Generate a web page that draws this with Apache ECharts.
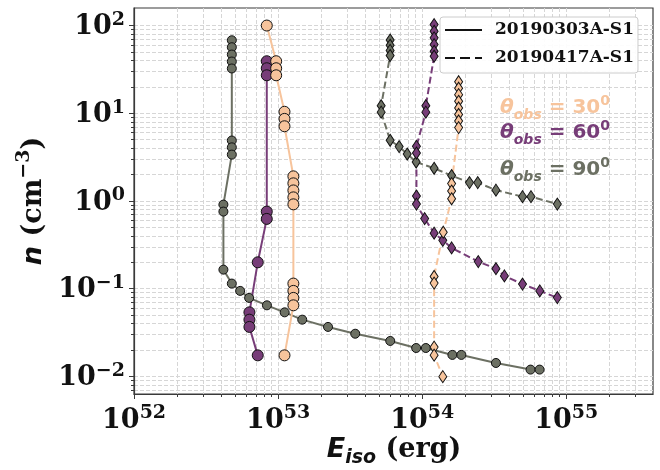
<!DOCTYPE html>
<html>
<head>
<meta charset="utf-8">
<script src="https://cdn.jsdelivr.net/npm/echarts@6/dist/echarts.min.js"></script>
<style>
  html, body { margin: 0; padding: 0; background: #fff; }
  #chart { width: 660px; height: 470px; }
</style>
</head>
<body>
<div id="chart"></div>
<script>
// Isotropic energy E_iso (erg) and density n (cm^-3) solutions per viewing angle.

// 20190303A-S1 (solid line, circles)
const E_0303_30 = [8.34e52, 9.69e52, 9.69e52, 9.69e52, 1.107e53, 1.107e53, 1.107e53,
  1.276e53, 1.276e53, 1.276e53, 1.276e53, 1.276e53, 1.276e53, 1.276e53, 1.276e53, 1.276e53, 1.107e53];
const n_0303_30 = [100, 39.2, 32.6, 27.1, 10.4, 8.63, 7.11,
  1.91, 1.59, 1.32, 1.10, 0.916, 0.1145, 0.0945, 0.0786, 0.0647, 0.0174];

const E_0303_60 = [8.34e52, 8.34e52, 8.34e52, 8.34e52, 8.34e52, 7.22e52, 6.32e52, 6.32e52, 6.32e52, 7.22e52];
const n_0303_60 = [39.2, 32.6, 27.1, 0.757, 0.625, 0.2, 0.0538, 0.0444, 0.0367, 0.0174];

const E_0303_90 = [4.77e52, 4.77e52, 4.77e52, 4.77e52, 4.77e52, 4.77e52, 4.77e52, 4.77e52,
  4.17e52, 4.17e52, 4.17e52, 4.77e52, 5.45e52, 6.29e52, 8.36e52, 1.11e53, 1.47e53, 2.22e53,
  3.43e53, 6.0e53, 9.08e53, 1.06e54, 1.62e54, 1.87e54, 3.25e54, 5.65e54, 6.53e54];
const n_0303_90 = [68, 56.6, 46.7, 38.9, 32.4, 4.89, 4.09, 3.38,
  0.91, 0.757, 0.165, 0.1145, 0.0945, 0.0786, 0.0647, 0.0538, 0.0444, 0.0367,
  0.0307, 0.0254, 0.0211, 0.0211, 0.0176, 0.0176, 0.01425, 0.01197, 0.01197];

// 20190417A-S1 (dashed line, diamonds)
const E_0417_30 = [1.79e54, 1.79e54, 1.79e54, 1.79e54, 1.79e54, 1.79e54, 1.79e54, 1.79e54,
  1.60e54, 1.60e54, 1.60e54, 1.40e54, 1.21e54, 1.21e54, 1.21e54, 1.21e54, 1.39e54];
const n_0417_30 = [22.9, 19.3, 16.3, 13.7, 11.5, 9.69, 8.17, 6.87,
  1.58, 1.30, 1.06, 0.441, 0.138, 0.116, 0.0216, 0.0175, 0.00995];

const E_0417_60 = [1.21e54, 1.21e54, 1.21e54, 1.21e54, 1.21e54, 1.21e54, 1.06e54, 1.06e54,
  9.12e53, 9.12e53, 9.12e53, 9.12e53, 1.04e54, 1.21e54, 1.39e54, 1.60e54, 2.45e54, 3.25e54,
  3.72e54, 4.97e54, 6.55e54, 8.67e54];
const n_0417_60 = [102.6, 86, 72.4, 60.7, 50.9, 44.7, 12.2, 10.3,
  4.20, 3.52, 1.14, 0.922, 0.630, 0.430, 0.356, 0.292, 0.204, 0.169,
  0.140, 0.113, 0.0944, 0.0792];

const E_0417_90 = [5.99e53, 5.99e53, 5.99e53, 5.99e53, 5.19e53, 5.19e53, 5.99e53, 6.92e53,
  7.87e53, 9.08e53, 1.21e54, 1.60e54, 2.13e54, 2.43e54, 3.25e54, 4.97e54, 5.69e54, 8.67e54];
const n_0417_90 = [68.4, 59.6, 52.1, 45.5, 12.2, 10.3, 4.92, 4.17,
  3.43, 2.78, 2.36, 1.95, 1.62, 1.62, 1.33, 1.12, 1.12, 0.922];

// Axis ranges and decade tick exponents
const xRange = [0.999e52, 4e55];
const yRange = [Math.pow(10, -2.2), Math.pow(10, 2.2)];
const xTickExp = [52, 53, 54, 55];
const yTickExp = [-2, -1, 0, 1, 2];

const legendNames = ['20190303A-S1', '20190417A-S1'];
const angleLabels = ['30', '60', '90'];

const C30 = '#F7C49C';
const C60 = '#773D78';
const C90 = '#6C7063';
const DASH = [7, 3.5];

function majorValues(exps) { return exps.map(e => Math.pow(10, e)); }
function minorValues(range) {
  const out = [];
  const lo = Math.floor(Math.log10(range[0])), hi = Math.ceil(Math.log10(range[1]));
  for (let d = lo; d <= hi; d++) {
    for (let k = 2; k <= 9; k++) {
      const v = k * Math.pow(10, d);
      if (v > range[0] && v < range[1]) out.push(v);
    }
  }
  return out;
}

const serifBold = { fontFamily: 'DejaVu Serif', fontWeight: 'bold', color: '#111' };
function powLabel(v) {
  const e = Math.round(Math.log10(v));
  return '{m|10}{s|' + String(e).replace('-', '\u2212') + '}';
}
const tickRich = {
  m: Object.assign({ fontSize: 27, lineHeight: 30, verticalAlign: 'bottom' }, serifBold),
  s: Object.assign({ fontSize: 19, lineHeight: 30, verticalAlign: 'top' }, serifBold)
};

const gridLine = { show: true, lineStyle: { color: '#d6d6d6', width: 1, type: [4, 2] } };
const axisColor = '#3a3a3a';

function pairs(E, n) { return E.map((e, i) => [e, n[i]]); }
function series(name, E, n, color, dashed, symbol, size) {
  return {
    type: 'line', name: name, data: pairs(E, n),
    symbol: symbol, symbolSize: size, showAllSymbol: true,
    lineStyle: { color: color, width: 2, type: dashed ? DASH : 'solid' },
    itemStyle: { color: color, borderColor: '#111', borderWidth: 1 },
    emphasis: { disabled: true }, silent: true, legendHoverLink: false
  };
}

// Legend keys: plain solid and dashed strokes
const solidIcon = 'path://M0,0H37V2H0Z';
const dashedIcon = 'path://M0,0H10V2H0Z M15,0H25V2H15Z M30,0H37V2H30Z';

const chart = echarts.init(document.getElementById('chart'), null, { renderer: 'canvas' });

const option = {
  animation: false,
  backgroundColor: '#fff',
  grid: { left: 134, top: 8, right: 7, bottom: 76, show: true, borderColor: axisColor, borderWidth: 1.2, backgroundColor: 'transparent' },
  xAxis: [
    {
      type: 'log', logBase: 10, min: xRange[0], max: xRange[1], position: 'bottom',
      axisLine: { show: true, lineStyle: { color: axisColor, width: 1.2 } },
      axisTick: { show: true, inside: false, length: 5, customValues: majorValues(xTickExp), lineStyle: { color: axisColor } },
      axisLabel: { show: true, margin: 10, customValues: majorValues(xTickExp), formatter: powLabel, rich: tickRich },
      splitLine: gridLine, minorTick: { show: false }
    },
    {
      type: 'log', logBase: 10, min: xRange[0], max: xRange[1], position: 'bottom',
      axisLine: { show: false },
      axisTick: { show: true, inside: false, length: 3, customValues: minorValues(xRange), lineStyle: { color: axisColor } },
      axisLabel: { show: false },
      splitLine: gridLine
    }
  ],
  yAxis: [
    {
      type: 'log', logBase: 10, min: yRange[0], max: yRange[1], position: 'left',
      axisLine: { show: true, lineStyle: { color: axisColor, width: 1.2 } },
      axisTick: { show: true, inside: false, length: 5, customValues: majorValues(yTickExp), lineStyle: { color: axisColor } },
      axisLabel: { show: true, margin: 9, customValues: majorValues(yTickExp), formatter: powLabel, rich: tickRich },
      splitLine: gridLine
    },
    {
      type: 'log', logBase: 10, min: yRange[0], max: yRange[1], position: 'left',
      axisLine: { show: false },
      axisTick: { show: true, inside: false, length: 3, customValues: minorValues(yRange), lineStyle: { color: axisColor } },
      axisLabel: { show: false },
      splitLine: gridLine
    }
  ],
  legend: {
    data: [
      { name: legendNames[0], icon: solidIcon },
      { name: legendNames[1], icon: dashedIcon }
    ],
    orient: 'vertical', left: 440, top: 17,
    padding: [3, 4, 5, 5], itemGap: 8, itemWidth: 37, itemHeight: 14,
    backgroundColor: 'rgba(255,255,255,0.92)', borderColor: '#cccccc', borderWidth: 1, borderRadius: 3,
    textStyle: { fontFamily: 'DejaVu Serif', fontWeight: 'bold', fontSize: 17, color: '#111', lineHeight: 20, padding: [0, 0, 0, 8] },
    selectedMode: false
  },
  series: [
    series('20190303A-S1 90', E_0303_90, n_0303_90, C90, false, 'circle', 9),
    series('20190303A-S1 60', E_0303_60, n_0303_60, C60, false, 'circle', 11),
    series('20190303A-S1 30', E_0303_30, n_0303_30, C30, false, 'circle', 11),
    series('20190417A-S1 90', E_0417_90, n_0417_90, C90, true, 'diamond', [8, 12]),
    series('20190417A-S1 60', E_0417_60, n_0417_60, C60, true, 'diamond', [8, 12]),
    series('20190417A-S1 30', E_0417_30, n_0417_30, C30, true, 'diamond', [8, 12]),
    { type: 'line', name: legendNames[0], data: [], symbol: 'none', lineStyle: { color: '#111', width: 2 }, itemStyle: { color: '#111' } },
    { type: 'line', name: legendNames[1], data: [], symbol: 'none', lineStyle: { color: '#111', width: 2, type: DASH }, itemStyle: { color: '#111' } }
  ]
};
chart.setOption(option);

// Viewing-angle annotations and axis titles
function angleText(label, color, y) {
  const sansBI = { fontFamily: 'DejaVu Sans', fontWeight: 'bold', fontStyle: 'italic', fill: color };
  const sansB = { fontFamily: 'DejaVu Sans', fontWeight: 'bold', fill: color };
  return {
    type: 'text', x: 500, y: y, silent: true, z: 10,
    style: {
      text: '{t|\u03b8}{s|obs}{e| = ' + label + '}{p|0}',
      verticalAlign: 'middle', align: 'left',
      rich: {
        t: Object.assign({ fontSize: 20, lineHeight: 24, verticalAlign: 'bottom' }, sansBI),
        s: Object.assign({ fontSize: 14, lineHeight: 24, verticalAlign: 'bottom', padding: [0, 0, -4, 0] }, sansBI),
        e: Object.assign({ fontSize: 20, lineHeight: 24, verticalAlign: 'bottom' }, sansB),
        p: Object.assign({ fontSize: 14, lineHeight: 24, verticalAlign: 'top' }, sansB)
      }
    }
  };
}

chart.setOption({
  graphic: [
    angleText(angleLabels[0], C30, 106),
    angleText(angleLabels[1], C60, 131),
    angleText(angleLabels[2], C90, 168),
    {
      type: 'text', x: 31, y: 201, rotation: Math.PI / 2, silent: true,
      style: {
        text: '{i|n}{r| (cm}{p|\u22123}{r|)}', align: 'center', verticalAlign: 'middle',
        rich: {
          i: { fontFamily: 'DejaVu Sans', fontWeight: 'bold', fontStyle: 'italic', fontSize: 27, lineHeight: 32, verticalAlign: 'bottom', fill: '#111' },
          r: { fontFamily: 'DejaVu Serif', fontWeight: 'bold', fontSize: 27, lineHeight: 32, verticalAlign: 'bottom', fill: '#111' },
          p: { fontFamily: 'DejaVu Serif', fontWeight: 'bold', fontSize: 19, lineHeight: 32, verticalAlign: 'top', fill: '#111' }
        }
      }
    },
    {
      type: 'text', x: 394, y: 447, silent: true,
      style: {
        text: '{i|E}{b|iso}{r| (erg)}', align: 'center', verticalAlign: 'middle',
        rich: {
          i: { fontFamily: 'DejaVu Sans', fontWeight: 'bold', fontStyle: 'italic', fontSize: 27, lineHeight: 32, verticalAlign: 'bottom', fill: '#111' },
          b: { fontFamily: 'DejaVu Sans', fontWeight: 'bold', fontStyle: 'italic', fontSize: 19, lineHeight: 32, verticalAlign: 'bottom', padding: [0, 0, -5, 0], fill: '#111' },
          r: { fontFamily: 'DejaVu Serif', fontWeight: 'bold', fontSize: 27, lineHeight: 32, verticalAlign: 'bottom', fill: '#111' }
        }
      }
    }
  ]
});
</script>
</body>
</html>
